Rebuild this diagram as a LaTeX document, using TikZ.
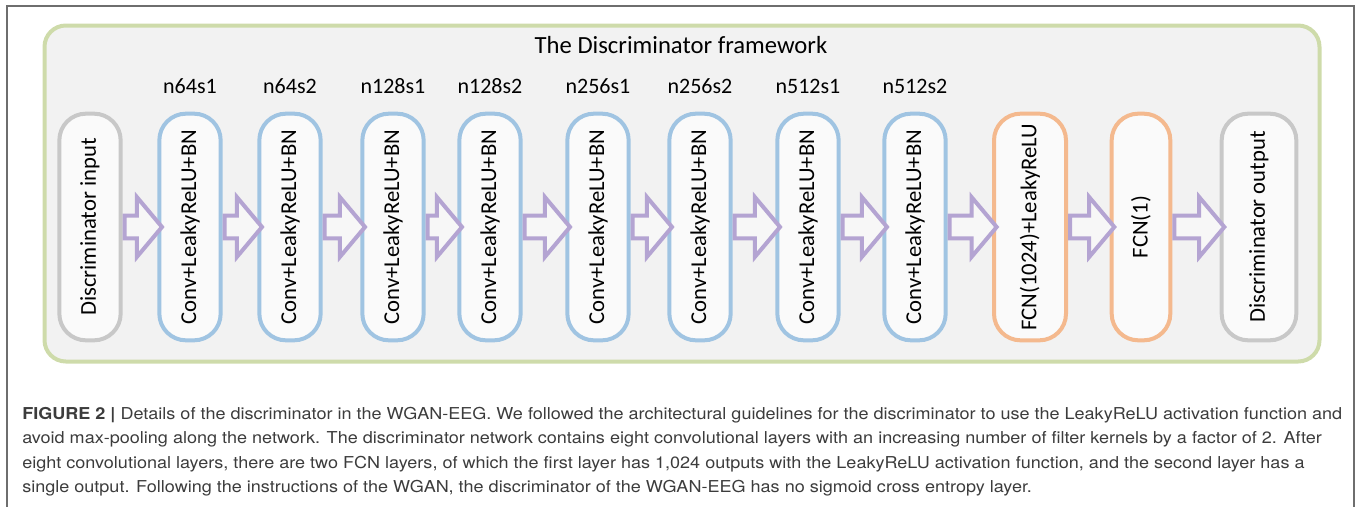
\documentclass[tikz,border=0pt]{standalone}
\usepackage{fontspec}
\setmainfont{Carlito}
\newfontfamily\capfont[FakeStretch=1.1]{TeX Gyre Heros}
\usepackage{tikz}
\usetikzlibrary{shapes,arrows,positioning,calc}

\definecolor{frameline}{RGB}{110,110,110}
\definecolor{panelline}{RGB}{206,219,170}
\definecolor{panelfill}{RGB}{242,242,242}
\definecolor{convline}{RGB}{160,196,226}
\definecolor{fcnline}{RGB}{244,185,142}
\definecolor{ioline}{RGB}{200,200,200}
\definecolor{arrowline}{RGB}{180,164,210}
\definecolor{captext}{RGB}{60,60,60}

% hollow block arrow spanning the gap between two layers
\newcommand{\blockflow}[3]{\path let \p1=(#2.east), \p2=(#3.west) in node (#1) [Flow, minimum height=\x2-\x1+2pt, anchor=tail] at (\p1) {};}

\begin{document}
\begin{tikzpicture}[x=0.75pt,y=-0.75pt]
			\tikzstyle{Layer}	= [draw, line width=3pt, fill=white!60!panelfill, rectangle, rounded corners=20pt, minimum height=170pt, minimum width=46pt, inner sep=0pt, font=\fontsize{17}{18}\selectfont]
			\tikzstyle{Conv}	= [draw=convline]
			\tikzstyle{FCN}		= [draw=fcnline]
			\tikzstyle{IO}		= [draw=ioline]
			\tikzstyle{Spec}	= [inner sep=0pt, font=\fontsize{16.5}{18}\selectfont]
			\tikzstyle{Flow}	= [single arrow, draw=arrowline, line width=3pt, fill=white!40!panelfill, single arrow head extend=14pt, single arrow tip angle=100, inner xsep=0pt, inner ysep=7pt]

			\useasboundingbox (0,0) rectangle (1357,507);
			\draw [frameline, line width=1pt] (7,6) rectangle (1354,530);
			\draw [panelline, fill=panelfill, line width=3pt, rounded corners=16pt] (44.5,25.5) rectangle (1319.5,361.5);

			\node (title) at (681,45) [Spec, font=\fontsize{18.5}{20}\selectfont] {The Discriminator framework};

			\node (din) at (90,227) [Layer][IO] {\rotatebox{90}{Discriminator input}};
			\node (c1) at (190,227) [Layer][Conv] {\rotatebox{90}{Conv+LeakyReLU+BN}};
			\node (c2) at (290,227) [Layer][Conv] {\rotatebox{90}{Conv+LeakyReLU+BN}};
			\node (c3) at (393,227) [Layer][Conv] {\rotatebox{90}{Conv+LeakyReLU+BN}};
			\node (c4) at (490,227) [Layer][Conv] {\rotatebox{90}{Conv+LeakyReLU+BN}};
			\node (c5) at (598,227) [Layer][Conv] {\rotatebox{90}{Conv+LeakyReLU+BN}};
			\node (c6) at (700,227) [Layer][Conv] {\rotatebox{90}{Conv+LeakyReLU+BN}};
			\node (c7) at (808,227) [Layer][Conv] {\rotatebox{90}{Conv+LeakyReLU+BN}};
			\node (c8) at (915,227) [Layer][Conv] {\rotatebox{90}{Conv+LeakyReLU+BN}};
			\node (f1) at (1030,227) [Layer][FCN][minimum width=54pt] {\rotatebox{90}{FCN(1024)+LeakyReLU}};
			\node (f2) at (1141,227) [Layer][FCN][minimum width=44pt] {\rotatebox{90}{FCN(1)}};
			\node (dout) at (1259,227) [Layer][IO][minimum width=56pt] {\rotatebox{90}{Discriminator output}};

			\node (s1) [Spec, above=13pt of c1] {n64s1};
			\node (s2) [Spec, above=13pt of c2] {n64s2};
			\node (s3) [Spec, above=13pt of c3] {n128s1};
			\node (s4) [Spec, above=13pt of c4] {n128s2};
			\node (s5) [Spec, above=13pt of c5] {n256s1};
			\node (s6) [Spec, above=13pt of c6] {n256s2};
			\node (s7) [Spec, above=13pt of c7] {n512s1};
			\node (s8) [Spec, above=13pt of c8] {n512s2};

			\blockflow{a1}{din}{c1}
			\blockflow{a2}{c1}{c2}
			\blockflow{a3}{c2}{c3}
			\blockflow{a4}{c3}{c4}
			\blockflow{a5}{c4}{c5}
			\blockflow{a6}{c5}{c6}
			\blockflow{a7}{c6}{c7}
			\blockflow{a8}{c7}{c8}
			\blockflow{a9}{c8}{f1}
			\blockflow{a10}{f1}{f2}
			\blockflow{a11}{f2}{dout}

			\node (cap) at (22,407) [anchor=north west, align=left, inner sep=0pt, text=captext, font=\capfont\fontsize{12.3}{18.2}\selectfont] {\textbf{FIGURE 2 |} Details of the discriminator in the WGAN-EEG. We followed the architectural guidelines for the discriminator to use the LeakyReLU activation function and\\
avoid max-pooling along the network. The discriminator network contains eight convolutional layers with an increasing number of filter kernels by a factor of 2. After\\
eight convolutional layers, there are two FCN layers, of which the first layer has 1,024 outputs with the LeakyReLU activation function, and the second layer has a\\
single output. Following the instructions of the WGAN, the discriminator of the WGAN-EEG has no sigmoid cross entropy layer.};
		\end{tikzpicture}
\end{document}
